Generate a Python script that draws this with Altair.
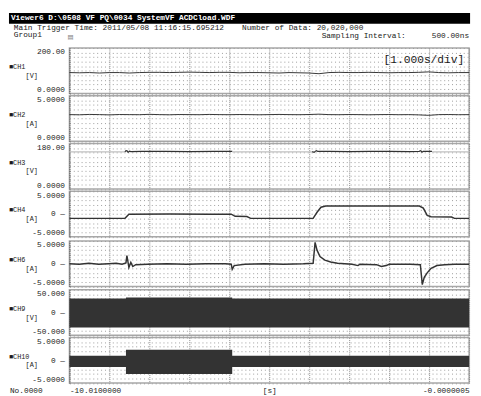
import altair as alt
import pandas as pd

FONT = "Liberation Mono"
INK = "#1a1a1a"
TRACE = "#333333"
W = 410
H = 46.6

# ---- texts ----
TITLE_BAR = "Viewer6 D:\\0508 VF PQ\\0034 SystemVF ACDCload.WDF"
HDR_TRIGGER = "Main Trigger Time: 2011/05/08 11:16:15.695212"
HDR_NDATA = "Number of Data: 20,020,000"
HDR_GROUP = "Group1"
HDR_ICON = "▤"
HDR_SAMPLING = "Sampling Interval:"
HDR_SAMPLING_VAL = "500.00ns"
TIMEBASE = "[1.000s/div]"
X_LEFT_LABEL = "No.0000"
X_UNIT = "[s]"

# ---- time axis ----
x_grid = [-10.01, -9.009, -8.008, -7.007, -6.006, -5.005, -4.004, -3.003, -2.002, -1.001, -0.0000005]
x_tick_labels = ["-10.0100000", "-0.0000005"]

# ---- CH1 / CH2 sampled every 0.25 s ----
t_q = [-10.01, -9.76, -9.51, -9.26, -9.01, -8.76, -8.51, -8.26, -8.01, -7.76, -7.51,
       -7.26, -7.01, -6.76, -6.51, -6.26, -6.01, -5.76, -5.51, -5.26, -5.01, -4.76,
       -4.51, -4.26, -4.01, -3.76, -3.51, -3.26, -3.01, -2.76, -2.51, -2.26, -2.01,
       -1.76, -1.51, -1.26, -1.01, -0.76, -0.51, -0.26, -0.0000005]
ch1_v = [92, 91, 92, 90, 92, 92, 90, 92, 93, 93, 92, 93, 94, 93, 92, 93, 93, 91, 92, 92,
         91, 90, 92, 91, 90, 87, 92, 93, 92, 92, 93, 92, 91, 92, 92, 93, 95, 92, 91, 92, 92]
ch2_a = [2.93, 2.91, 2.95, 2.93, 2.90, 2.94, 2.93, 2.92, 2.96, 2.93, 2.91, 2.94, 2.93, 2.92,
         2.95, 2.93, 2.92, 2.94, 2.93, 2.91, 2.93, 2.95, 2.93, 2.92, 2.94, 2.98, 2.93, 2.92,
         2.94, 2.93, 2.91, 2.93, 2.94, 2.92, 2.93, 2.90, 2.85, 2.93, 2.94, 2.92, 2.93]

# ---- CH3 (segments: even = faint, odd = solid) ----
ch3_t = [-10.01, -8.62,
         -8.62, -8.60, -8.57, -8.54, -8.51, -8.47, -8.2, -7.6, -7.0, -6.4, -5.93,
         -5.93, -3.93,
         -3.93, -3.88, -3.85, -3.82, -3.79, -3.5, -3.0, -2.5, -2.0, -1.5, -1.25, -1.21, -1.18, -1.15, -0.93,
         -0.93, -0.0000005]
ch3_v = [147, 147,
         147, 151, 152, 145, 150, 148, 149, 149, 148, 149, 149,
         147, 147,
         148, 145, 150, 152, 149, 149, 148, 149, 149, 148, 149, 152, 146, 149, 149,
         147, 147]
ch3_seg = [0, 0,
           1, 1, 1, 1, 1, 1, 1, 1, 1, 1, 1,
           2, 2,
           3, 3, 3, 3, 3, 3, 3, 3, 3, 3, 3, 3, 3, 3, 3,
           4, 4]

# ---- CH4 ----
ch4_t = [-10.01, -8.618, -8.52, -7.5, -6.5, -5.957, -5.86, -5.566, -5.47, -4.5, -3.906, -3.808,
         -3.71, -3.589, -3.0, -2.0, -1.245, -1.147, -1.05, -0.953, -0.44, -0.366, -0.0000005]
ch4_a = [-0.95, -0.95, -0.02, 0.02, -0.04, -0.02, -0.5, -0.55, -0.95, -0.95, -0.95, 0.4,
         1.5, 1.75, 1.78, 1.75, 1.75, 1.3, -0.3, -0.6, -0.65, -0.95, -0.95]

# ---- CH6 ----
ch6_t = [-10.01, -9.766, -9.522, -9.278, -9.033, -8.838, -8.692, -8.594, -8.570, -8.545,
         -8.521, -8.472, -8.423, -8.350, -8.057, -7.568, -7.080, -6.592, -6.104, -5.957,
         -5.933, -5.884, -5.615, -5.127, -4.639, -4.150, -3.906, -3.857, -3.809, -3.735,
         -3.613, -3.467, -3.296, -2.930, -2.783, -2.734, -2.319, -2.197, -2.075, -2.002,
         -1.465, -1.221, -1.172, -1.123, -1.050, -0.952, -0.806, -0.610, -0.366, -0.0000005]
ch6_a = [0.0, -0.1, 0.1, -0.1, 0.0, 0.1, -0.1, 0.2, 1.8, 0.5,
         -0.8, 0.3, -0.6, -0.2, -0.1, 0.0, -0.1, 0.0, 0.0, -0.1,
         -1.2, -0.4, -0.1, 0.0, -0.1, 0.0, 0.1, 4.7, 3.0, 1.6,
         0.8, 0.4, 0.1, -0.1, -0.4, -0.1, -0.2, -0.6, -0.4, -0.1,
         -0.1, -0.2, -4.6, -3.0, -2.0, -1.0, -0.4, -0.2, -0.1, -0.1]

# ---- CH9 / CH10 envelopes (AC waveforms drawn as bands) ----
env_t = [-10.01, -8.594, -5.933, -0.0000005]
ch9_hi = [31, 33, 31, 31]
ch9_lo = [-33, -33, -33, -33]
ch10_hi = [1.0, 2.3, 1.0, 1.0]
ch10_lo = [-1.5, -3.0, -1.5, -1.5]

# ---------------------------------------------------------------------------
x_scale = alt.Scale(domain=[-10.01, -0.0000005], nice=False, zero=False)


def x_axis(last=False):
    common = dict(values=x_grid, grid=True, gridColor="#8a8a8a", gridDash=[1, 1], gridWidth=1,
                  domain=False, ticks=False, tickSize=0)
    if not last:
        return alt.Axis(labels=False, title=None, **common)
    expr = (f"datum.value < -10 ? '{x_tick_labels[0]}' : "
            f"(datum.value > -0.001 ? '{x_tick_labels[1]}' : '')")
    return alt.Axis(labelExpr=expr, labelFlush=True, labelPadding=4, labelFont=FONT,
                    labelFontSize=8, labelColor=INK, title=X_UNIT, titleFont=FONT,
                    titleFontSize=8, titleFontWeight="normal", titleColor=INK,
                    titleY=4, titleBaseline="top", **common)


def y_axis(grid_vals, label_pairs):
    parts = [f"datum.value == {v} ? '{s}'" for v, s in label_pairs]
    expr = " : ".join(parts) + " : ''"
    return alt.Axis(values=grid_vals, grid=True, gridColor="#9a9a9a", gridDash=[1, 3],
                    gridWidth=1, domain=True, domainColor="#555555", domainDash=[1, 1],
                    domainWidth=1, ticks=False, tickSize=0, labelExpr=expr, labelFlush=True,
                    labelPadding=5, labelFont=FONT, labelFontSize=8, labelColor=INK,
                    title=None)


def y_enc(field, lo, hi, grid_vals, label_pairs):
    return alt.Y(field, scale=alt.Scale(domain=[lo, hi], nice=False, zero=False),
                 axis=y_axis(grid_vals, label_pairs))


def panel(base, name, unit, extra=None):
    one = pd.DataFrame({"name": [name], "unit": [unit]})
    name_t = alt.Chart(one).mark_text(align="left", baseline="middle", font=FONT,
                                      fontSize=7, color=INK).encode(
        text="name:N", x=alt.value(-62), y=alt.value(19.5))
    unit_t = alt.Chart(one).mark_text(align="left", baseline="middle", font=FONT,
                                      fontSize=7, color=INK).encode(
        text="unit:N", x=alt.value(-45), y=alt.value(28.5))
    layers = [base, name_t, unit_t] + (extra or [])
    return alt.layer(*layers).properties(
        width=W, height=H, view=alt.ViewBackground(stroke="#a8a8a8", strokeWidth=1.5))


one_row = pd.DataFrame({"k": [0]})


def txt(s, x, y, align="left", color=INK, weight="normal", size=8, font=FONT):
    return alt.Chart(one_row).mark_text(align=align, baseline="middle", font=font,
                                        fontSize=size, color=color, fontWeight=weight).encode(
        text=alt.value(s), x=alt.value(x), y=alt.value(y))


# ---- header ----
bar = alt.Chart(one_row).mark_rect(color="black").encode(
    x=alt.value(-62), x2=alt.value(W + 1), y=alt.value(0), y2=alt.value(11))
header = alt.layer(
    bar,
    txt(TITLE_BAR, -60, 5.5, color="white", weight="bold"),
    txt(HDR_TRIGGER, -57, 15.5),
    txt(HDR_NDATA, 177, 15.5),
    txt(HDR_GROUP, -57, 22.5),
    txt(HDR_ICON, -2, 25, size=6.5, font="DejaVu Sans", color="#777777"),
    txt(HDR_SAMPLING, 345, 23.5, align="right"),
    txt(HDR_SAMPLING_VAL, 410, 23.5, align="right"),
).properties(width=W, height=35, view=alt.ViewBackground(stroke=None))

# ---- channel panels ----
df1 = pd.DataFrame({"t": t_q, "v": ch1_v})
p1 = panel(
    alt.Chart(df1).mark_line(color=TRACE, strokeWidth=1).encode(
        x=alt.X("t:Q", scale=x_scale, axis=x_axis()),
        y=y_enc("v:Q", 0, 200, [0, 20, 40, 60, 80, 100, 120, 140, 160, 180, 200],
                [(200, "200.00"), (0, "0.0000")])),
    "■CH1", "[V]",
    [txt(TIMEBASE, 405, 12.5, align="right", size=11.5)])

df2 = pd.DataFrame({"t": t_q, "v": ch2_a})
p2 = panel(
    alt.Chart(df2).mark_line(color=TRACE, strokeWidth=1).encode(
        x=alt.X("t:Q", scale=x_scale, axis=x_axis()),
        y=y_enc("v:Q", 0, 5, [0, 0.5, 1, 1.5, 2, 2.5, 3, 3.5, 4, 4.5, 5],
                [(5, "5.0000"), (0, "0.0000")])),
    "■CH2", "[A]")

df3 = pd.DataFrame({"t": ch3_t, "v": ch3_v, "g": ch3_seg,
                    "tone": ["solid" if s % 2 else "faint" for s in ch3_seg]})
p3 = panel(
    alt.Chart(df3).mark_line(strokeWidth=1.2).encode(
        x=alt.X("t:Q", scale=x_scale, axis=x_axis()),
        y=y_enc("v:Q", 0, 180, [0, 18, 36, 54, 72, 90, 108, 126, 144, 162, 180],
                [(180, "180.00"), (0, "0.0000")]),
        color=alt.Color("tone:N", scale=alt.Scale(domain=["solid", "faint"],
                                                  range=[TRACE, "#c0c0c0"]), legend=None),
        detail="g:N"),
    "■CH3", "[V]")

sym_grid = [-5, -4, -3, -2, -1, 0, 1, 2, 3, 4, 5]
sym_labels = [(5, "5.0000"), (0, "0 —"), (-5, "-5.0000")]

df4 = pd.DataFrame({"t": ch4_t, "v": ch4_a})
p4 = panel(
    alt.Chart(df4).mark_line(color=TRACE, strokeWidth=1.5).encode(
        x=alt.X("t:Q", scale=x_scale, axis=x_axis()),
        y=y_enc("v:Q", -5, 5, sym_grid, sym_labels)),
    "■CH4", "[A]")

df6 = pd.DataFrame({"t": ch6_t, "v": ch6_a})
p6 = panel(
    alt.Chart(df6).mark_line(color=TRACE, strokeWidth=1.5).encode(
        x=alt.X("t:Q", scale=x_scale, axis=x_axis()),
        y=y_enc("v:Q", -5, 5, sym_grid, sym_labels)),
    "■CH6", "[A]")

df9 = pd.DataFrame({"t": env_t, "hi": ch9_hi, "lo": ch9_lo})
p9 = panel(
    alt.Chart(df9).mark_area(color=TRACE, interpolate="step-after").encode(
        x=alt.X("t:Q", scale=x_scale, axis=x_axis()),
        y=y_enc("hi:Q", -50, 50, [-50, -40, -30, -20, -10, 0, 10, 20, 30, 40, 50],
                [(50, "50.000"), (0, "0 —"), (-50, "-50.000")]),
        y2="lo:Q"),
    "■CH9", "[V]")

df10 = pd.DataFrame({"t": env_t, "hi": ch10_hi, "lo": ch10_lo})
p10 = panel(
    alt.Chart(df10).mark_area(color=TRACE, interpolate="step-after").encode(
        x=alt.X("t:Q", scale=x_scale, axis=x_axis(last=True)),
        y=y_enc("hi:Q", -5, 5, sym_grid, sym_labels),
        y2="lo:Q"),
    "■CH10", "[A]",
    [txt(X_LEFT_LABEL, -61, H + 8.5)])

chart = alt.vconcat(header, p1, p2, p3, p4, p6, p9, p10, spacing=0).properties(
    padding=0, background="white")

chart.save("out.html", embed_options={"renderer": "svg", "actions": False})
